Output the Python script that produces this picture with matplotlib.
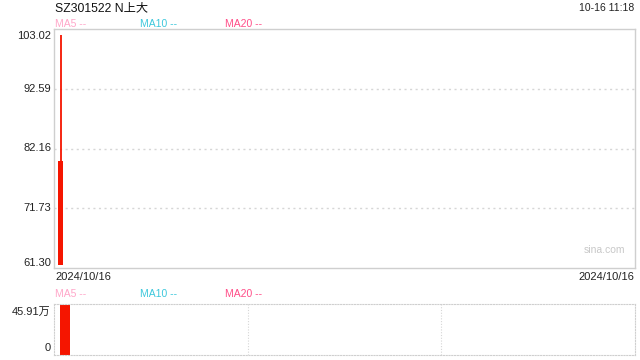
import matplotlib
matplotlib.use("Agg")
import matplotlib.pyplot as plt
import matplotlib.transforms as mtransforms

plt.rcParams["font.family"] = ["Liberation Sans", "Noto Sans CJK SC", "DejaVu Sans"]

# data
title = "SZ301522 N上大"
stamp = "10-16 11:18"
dates = ["2024/10/16"]
opens = [61.75]
highs = [101.9]
lows = [61.75]
closes = [80.0]
volumes = [45.91]  # 万
price_ticks = [61.30, 71.73, 82.16, 92.59, 103.02]
vol_tick_labels = ["0", "45.91万"]
ma_labels = ["MA5 --", "MA10 --", "MA20 --"]
ma_colors = ["#ffa6c9", "#3dc8dc", "#ff4d88"]

UP = "#f51500"
FRAME = "#cfcfcf"
GRID = "#d6d6d6"

fig = plt.figure(figsize=(6.4, 3.6), dpi=100)
W, H = 640, 360


def px_axes(x0, y0, x1, y1):
    return fig.add_axes([x0 / W, 1 - y1 / H, (x1 - x0) / W, (y1 - y0) / H])


ax = px_axes(54, 29, 635, 268)
axv = px_axes(54, 304, 635, 355)

# price panel
xs = list(range(len(dates)))
for i in xs:
    color = UP if closes[i] >= opens[i] else "#1a9e1a"
    ax.vlines(i, lows[i], highs[i], color=color, lw=1.3)
    ax.bar(i, closes[i] - opens[i], bottom=opens[i], width=0.5, color=color)
ax.set_xlim(-0.65, 57.45)
ax.set_ylim(price_ticks[0], price_ticks[-1])
ax.set_xticks([])
ax.set_yticks([])
for v in price_ticks[1:-1]:
    ax.axhline(v, ls=(0, (1.5, 2.5)), color=GRID, lw=1, zorder=0)
# tick labels, the outer two nudged inside the frame
ytrans = ax.get_yaxis_transform()
for k, v in enumerate(price_ticks):
    dy = 0
    if k == 0:
        dy = 5
    elif k == len(price_ticks) - 1:
        dy = -7
    tr = mtransforms.offset_copy(ytrans, fig=fig, x=-3, y=dy, units="dots")
    ax.text(0, v, f"{v:.2f}", transform=tr, ha="right", va="center",
            fontsize=8, color="#222222")
for s in ax.spines.values():
    s.set_color(FRAME)
    s.set_linewidth(1)
ax.text(0.983, 0.075, "sina.com", transform=ax.transAxes, ha="right", va="center",
        fontsize=7.5, color="#c8c8c8")

# volume panel
for i in xs:
    color = UP if closes[i] >= opens[i] else "#1a9e1a"
    axv.bar(i, volumes[i], width=1.0, color=color)
axv.set_xlim(-1.1, 57.0)
axv.set_ylim(0, max(volumes) * 1.02)
axv.set_xticks([])
axv.set_yticks([])
for frac in (1 / 3, 2 / 3):
    axv.plot([frac, frac], [0, 1], transform=axv.transAxes, ls=(0, (1, 1.5)),
             color=GRID, lw=0.8)
for s in axv.spines.values():
    s.set_color(FRAME)
    s.set_linestyle((0, (1, 1.5)))
    s.set_linewidth(0.8)
for y, lab in zip([0.137, 0.85], vol_tick_labels):
    axv.text(-0.006, y, lab, transform=axv.transAxes, ha="right", va="center",
             fontsize=8, color="#222222")

# header texts
fig.text(55 / W, 1 - 8 / H, title, ha="left", va="center", fontsize=8.8, color="#111111")
fig.text(634 / W, 1 - 8 / H, stamp, ha="right", va="center", fontsize=7.5, color="#222222")
for ypx in (24, 294):
    for xpx, lab, c in zip([55, 140, 225], ma_labels, ma_colors):
        fig.text(xpx / W, 1 - ypx / H, lab, ha="left", va="center", fontsize=7.5, color=c)
fig.text(55 / W, 1 - 277 / H, dates[0], ha="left", va="center", fontsize=8, color="#222222")
fig.text(634 / W, 1 - 277 / H, dates[-1], ha="right", va="center", fontsize=8, color="#222222")

fig.savefig("out.png", dpi=100, facecolor="white")
